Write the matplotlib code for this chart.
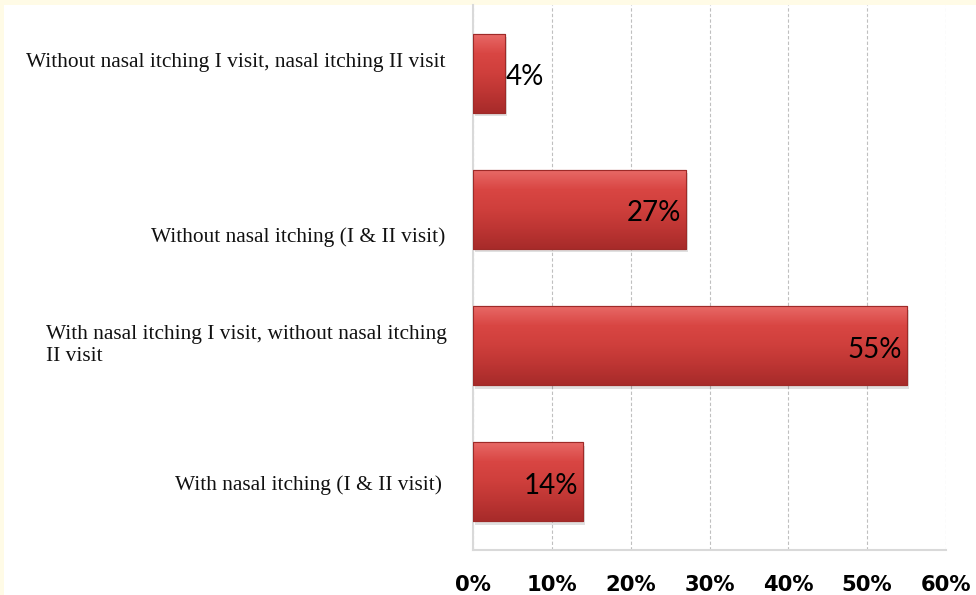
import matplotlib.pyplot as plt
import matplotlib.patches as mpatches
import numpy as np
from matplotlib.colors import LinearSegmentedColormap

# Daten (von oben nach unten)
categories = [
    "Without nasal itching I visit, nasal itching II visit",
    "Without nasal itching (I & II visit)",
    "With nasal itching I visit, without nasal itching\nII visit",
    "With nasal itching (I & II visit)",
]
values = [4, 27, 55, 14]
value_labels = ["4%", "27%", "55%", "14%"]
xticks = [0, 10, 20, 30, 40, 50, 60]
xtick_labels = ["0%", "10%", "20%", "30%", "40%", "50%", "60%"]

# Position der Kategorietexte relativ zur Balkenmitte
label_dy = [0.075, -0.205, 0.0, -0.025]
label_x = [-0.059, -0.059, -0.055, -0.066]

fig = plt.figure(figsize=(9.76, 5.95), dpi=100)
fig.patch.set_facecolor("#FFFBE6")
fig.patches.append(mpatches.Rectangle((4 / 976, 0), 1, 1 - 5 / 595, transform=fig.transFigure,
                                      facecolor="white", edgecolor="none", zorder=-10))

ax = fig.add_axes([473 / 976, 45 / 595, 473 / 976, 545 / 595])
ax.set_facecolor("none")

n = len(values)
ypos = np.arange(n)[::-1]
height = 0.58

# Rot mit Verlauf (oben hell, unten dunkel)
cmap = LinearSegmentedColormap.from_list("bar", ["#E86A68", "#D94643", "#CF3F3C", "#BD3533", "#A72B2A"])
grad = np.linspace(0, 1, 64).reshape(-1, 1)

bars = ax.barh(ypos, values, height=height, color="#D04341", edgecolor="#9E2A28", linewidth=0.8, zorder=3)
for b in bars:
    x0, y0 = b.get_x(), b.get_y()
    w, h = b.get_width(), b.get_height()
    # leichter Schatten
    ax.add_patch(mpatches.Rectangle((x0 + 0.25, y0 - 0.025), w, h, facecolor="#000000", alpha=0.12,
                                    edgecolor="none", zorder=2))
    im = ax.imshow(grad, cmap=cmap, aspect="auto", extent=(x0, x0 + w, y0, y0 + h),
                   origin="upper", zorder=3.5)
    im.set_clip_path(b)
    ax.add_patch(mpatches.Rectangle((x0, y0), w, h, facecolor="none", edgecolor="#9E2A28",
                                    linewidth=0.8, zorder=4))

for i, (y, v, lab) in enumerate(zip(ypos, values, value_labels)):
    if v < 8:
        ax.text(v + 0.2, y - 0.03, lab, ha="left", va="center", fontsize=20, family="Lato", zorder=5)
    else:
        ax.text(v - 0.6, y - 0.03, lab, ha="right", va="center", fontsize=20, family="Lato", zorder=5)

trans = ax.get_yaxis_transform()
for i, (y, cat) in enumerate(zip(ypos, categories)):
    ax.text(label_x[i], y + label_dy[i], cat, transform=trans, ha="right", va="center",
            multialignment="left", fontsize=15.4, family="Liberation Serif", color="#111111",
            linespacing=1.2, clip_on=False)

ax.set_xlim(0, 60)
ax.set_ylim(-0.5, n - 0.5)
ax.set_xticks(xticks)
ax.set_xticklabels(xtick_labels, fontsize=15.2, fontweight="bold", family="DejaVu Sans")
ax.tick_params(axis="x", length=0, pad=18)
ax.set_yticks([])

ax.grid(axis="x", color="#BFBFBF", linestyle=(0, (3, 2)), linewidth=0.8, zorder=0)
for s in ["top", "right"]:
    ax.spines[s].set_visible(False)
ax.spines["left"].set_color("#D9D9D9")
ax.spines["bottom"].set_color("#D9D9D9")
ax.spines["left"].set_linewidth(1.5)
ax.spines["bottom"].set_linewidth(1.5)

fig.savefig("out.png", dpi=100, facecolor=fig.get_facecolor())
